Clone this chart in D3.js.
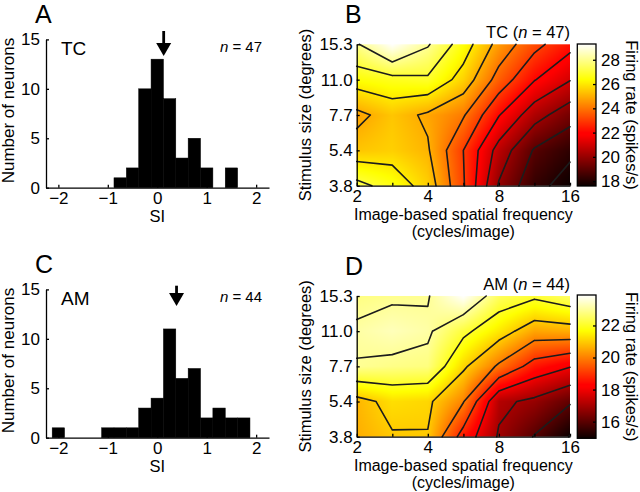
<!DOCTYPE html>
<html><head><meta charset="utf-8">
<script src="https://cdn.jsdelivr.net/npm/d3@7"></script>
<style>
body{margin:0;background:#fff;}
svg text{font-family:"Liberation Sans",Arial,Helvetica,sans-serif;fill:#000;}
</style></head><body>
<svg id="fig" width="640" height="492"></svg>
<script>
// ---------- data ----------
const binCenters = [-2,-1.75,-1.5,-1.25,-1,-0.75,-0.5,-0.25,0,0.25,0.5,0.75,1,1.25,1.5,1.75];
const countsTC = [0,0,0,0,0,1,2,10,13,9,3,5,2,0,2,0];
const countsAM = [1,0,0,0,1,1,1,3,4,11,6,7,2,3,2,2];
const binWidth = 0.25;
const siTicks = [-2,-1,0,1,2];
const countTicks = [0,5,10,15];
const meanSITC = 0.13;
const meanSIAM = 0.39;

const freqs = [2,2.83,4,5.66,8,11.31,16];
const freqTickLabels = [2,4,8,16];
const sizes = [15.3,11.0,7.7,5.4,3.8];
const sizeLabels = ["15.3","11.0","7.7","5.4","3.8"];

// rows: sizes (15.3 -> 3.8), cols: freqs (2 -> 16), spikes/s
const rateTC = [
  [27.9, 29.3, 28.1, 26.5, 24.65, 23.3, 22.3],
  [26.45,26.7, 26.85,25.6, 23.6, 22.05,21.05],
  [24.75,25.4, 24.84,24.1, 22.05,20.4, 19.4],
  [25.4, 25.57,25.1, 23.0, 20.6, 18.9, 18.2],
  [27.3, 26.6, 25.57,23.1, 19.9, 18.3, 17.6]
];
const rateAM = [
  [22.8, 22.9, 22.95,23.9, 22.5, 22.15,22.6],
  [23.1, 23.3, 23.12,22.2, 21.4, 20.5, 20.6],
  [22.97,22.85,22.78,21.15,19.86,18.6, 18.05],
  [20.7, 21.25,21.15,20.05,17.2, 16.8, 16.1],
  [20.6, 20.94,20.96,18.6, 16.9, 15.95,14.96]
];
const levelsTC = [18,19,20,21,22,23,24,25,26,27,28];
const levelsAM = [15,16,17,18,19,20,21,22,23];
const cbTicksTC = [18,20,22,24,26,28];
const cbTicksAM = [16,18,20,22];
const cbDomainTC = [17.6, 29.3];
const cbDomainAM = [14.96, 23.9];

// ---------- helpers ----------
const svg = d3.select("#fig");
const FS = 16.5;   // axis titles
const TS = 17;     // tick labels
const FONT = '"Liberation Sans",Arial,sans-serif';

function hot(t){
  t = Math.max(0, Math.min(1, t));
  const r = Math.min(1, (t + 1/64) / 0.375);
  const g = Math.max(0, Math.min(1, (t - 0.375) / 0.375));
  const b = Math.max(0, Math.min(1, (t - 0.75) / 0.25));
  return [Math.round(r*255), Math.round(g*255), Math.round(b*255)];
}

function styleAxis(a){
  a.selectAll("path,line").attr("stroke","#000").attr("stroke-width",1.3);
  a.selectAll("text").attr("font-size", TS).attr("font-family",FONT).attr("fill","#000");
}

function histogram(cfg){
  const g = svg.append("g");
  const x = d3.scaleLinear().domain([-2.25, 2.26]).range([46, 269]);
  const y = d3.scaleLinear().domain([0, 15]).range([cfg.y0, cfg.y0 - 148.3]);
  g.selectAll("rect.bar").data(binCenters.map((c,i)=>({c, n:cfg.counts[i]})).filter(d=>d.n>0))
    .enter().append("rect")
    .attr("x", d=>x(d.c - binWidth/2))
    .attr("width", d=>x(d.c + binWidth/2) - x(d.c - binWidth/2))
    .attr("y", d=>y(d.n))
    .attr("height", d=>y(0) - y(d.n))
    .attr("fill", "#000").attr("stroke", "#000").attr("stroke-width", 0.5);
  const ax = g.append("g").attr("transform", `translate(0,${y(0)})`)
    .call(d3.axisBottom(x).tickValues(siTicks).tickFormat(d3.format("d")).tickSize(-3).tickSizeOuter(0).tickPadding(4));
  const ay = g.append("g").attr("transform", `translate(${x.range()[0]},0)`)
    .call(d3.axisLeft(y).tickValues(countTicks).tickFormat(d3.format("d")).tickSize(-3).tickSizeOuter(0).tickPadding(6));
  styleAxis(ax); styleAxis(ay);
  // arrow at mean SI
  const ax0 = x(cfg.mean);
  g.append("line").attr("x1",ax0).attr("x2",ax0).attr("y1",cfg.arrowTop).attr("y2",cfg.arrowTip-8)
    .attr("stroke","#000").attr("stroke-width",2.8);
  g.append("path").attr("d",`M${ax0-7.5},${cfg.arrowTip-13} L${ax0+7.5},${cfg.arrowTip-13} L${ax0},${cfg.arrowTip} Z`)
    .attr("fill","#000");
  // texts
  g.append("text").attr("x",35).attr("y",cfg.y0-164.5).attr("font-size",25).text(cfg.letter);
  g.append("text").attr("x",61).attr("y",cfg.y0-132.5).attr("font-size",19).text(cfg.name);
  const nt = g.append("text").attr("x",262).attr("y",cfg.y0-136).attr("text-anchor","end").attr("font-size",15);
  nt.append("tspan").attr("font-style","italic").text("n");
  nt.append("tspan").text(" = " + cfg.n);
  g.append("text").attr("transform",`translate(14,${(y(0)+y(15))/2 - 3}) rotate(-90)`)
    .attr("text-anchor","middle").attr("font-size",17).text("Number of neurons");
  g.append("text").attr("x",x(0)).attr("y",y(0)+34).attr("text-anchor","middle").attr("font-size",FS).text("SI");
}

function segmentsFor(Z, L){
  const segs = [];
  const nr = Z.length, nc = Z[0].length;
  for(let j=0;j<nr-1;j++) for(let i=0;i<nc-1;i++){
    const c = [
      {i:i, j:j, v:Z[j][i]},
      {i:i+1, j:j, v:Z[j][i+1]},
      {i:i+1, j:j+1, v:Z[j+1][i+1]},
      {i:i, j:j+1, v:Z[j+1][i]}
    ];
    const hi = c.map(p=>p.v>=L);
    const pts = [];
    for(let k=0;k<4;k++){
      const a=c[k], b=c[(k+1)%4];
      if(hi[k]!==hi[(k+1)%4]){
        const t=(L-a.v)/(b.v-a.v);
        pts[k] = [a.i + t*(b.i-a.i), a.j + t*(b.j-a.j)];
      }
    }
    const ks = [0,1,2,3].filter(k=>pts[k]);
    if(ks.length===2) segs.push([pts[ks[0]], pts[ks[1]]]);
    else if(ks.length===4){
      const center = (c[0].v+c[1].v+c[2].v+c[3].v)/4 >= L;
      for(let k=0;k<4;k++) if(hi[k]!==center) segs.push([pts[(k+3)%4], pts[k]]);
    }
  }
  return segs;
}

function heatmap(cfg){
  const g = svg.append("g");
  const x0 = 356.7, x1 = 570, yT = cfg.yTop, yB = cfg.yBot;
  const x = d3.scaleLog().base(2).domain([2,16]).range([x0, x1]);
  const y = d3.scalePoint().domain(sizes).range([yT, yB]);
  const rowIdx = d3.scaleLinear().domain([0, sizes.length-1]).range([yT, yB]);
  const colIdx = d3.scaleLinear().domain([0, freqs.length-1]).range([x(freqs[0]), x(freqs[freqs.length-1])]);
  const cnorm = d3.scaleLinear().domain(cfg.cdom).range([0,1]);
  const Z = cfg.data;
  // interpolated surface
  const W = Math.round(x1-x0), H = Math.round(yB-yT);
  const cv = document.createElement("canvas"); cv.width=W; cv.height=H;
  const ctx = cv.getContext("2d"); const img = ctx.createImageData(W,H);
  for(let py=0;py<H;py++){
    const r = Math.max(0, Math.min(sizes.length-1, rowIdx.invert(yT+py+0.5)));
    const j0 = Math.min(sizes.length-2, Math.floor(r)), fy = r-j0;
    for(let px=0;px<W;px++){
      const cc = Math.max(0, Math.min(freqs.length-1, colIdx.invert(x0+px+0.5)));
      const i0 = Math.min(freqs.length-2, Math.floor(cc)), fx = cc-i0;
      const v = (1-fy)*((1-fx)*Z[j0][i0] + fx*Z[j0][i0+1]) + fy*((1-fx)*Z[j0+1][i0] + fx*Z[j0+1][i0+1]);
      const col = hot(cnorm(v));
      const o = (py*W+px)*4;
      img.data[o]=col[0]; img.data[o+1]=col[1]; img.data[o+2]=col[2]; img.data[o+3]=255;
    }
  }
  ctx.putImageData(img,0,0);
  g.append("image").attr("x",x0).attr("y",yT).attr("width",x1-x0).attr("height",yB-yT)
    .attr("preserveAspectRatio","none").attr("href",cv.toDataURL());
  // contours
  const toPx = p => [colIdx(p[0]), rowIdx(p[1])];
  const line = d3.line();
  cfg.levels.forEach(L=>{
    const segs = segmentsFor(Z, L);
    g.append("path").attr("d", segs.map(s=>line(s.map(toPx))).join(""))
      .attr("fill","none").attr("stroke","#1c1c1c").attr("stroke-width",1.6)
      .attr("stroke-linecap","round").attr("stroke-linejoin","round");
  });
  // axes
  const ax = g.append("g").attr("transform",`translate(0,${yB})`)
    .call(d3.axisBottom(x).tickValues(freqs).tickFormat(d=>freqTickLabels.includes(d)?d:"")
      .tickSize(-3).tickSizeOuter(0).tickPadding(4));
  const ay = g.append("g").attr("transform",`translate(${x0},0)`)
    .call(d3.axisLeft(y).tickFormat((d,i)=>sizeLabels[i]).tickSize(-3).tickSizeOuter(0).tickPadding(4));
  styleAxis(ax); styleAxis(ay);
  // colorbar
  const cbx0 = 577.3, cbx1 = 596;
  const cy = d3.scaleLinear().domain(cfg.cdom).range([cfg.cbBot, cfg.cbTop]);
  const CH = Math.round(cfg.cbBot-cfg.cbTop);
  const cv2 = document.createElement("canvas"); cv2.width=1; cv2.height=CH;
  const ctx2 = cv2.getContext("2d"); const im2 = ctx2.createImageData(1,CH);
  for(let py=0;py<CH;py++){
    const col = hot(cnorm(cy.invert(cfg.cbTop+py+0.5)));
    im2.data[py*4]=col[0]; im2.data[py*4+1]=col[1]; im2.data[py*4+2]=col[2]; im2.data[py*4+3]=255;
  }
  ctx2.putImageData(im2,0,0);
  g.append("image").attr("x",cbx0).attr("y",cfg.cbTop).attr("width",cbx1-cbx0).attr("height",cfg.cbBot-cfg.cbTop)
    .attr("preserveAspectRatio","none").attr("href",cv2.toDataURL());
  g.append("rect").attr("x",cbx0).attr("y",cfg.cbTop).attr("width",cbx1-cbx0).attr("height",cfg.cbBot-cfg.cbTop)
    .attr("fill","none").attr("stroke","#000").attr("stroke-width",1.3);
  const ac = g.append("g").attr("transform",`translate(${cbx1},0)`)
    .call(d3.axisRight(cy).tickValues(cfg.cbTicks).tickSize(-3).tickSizeOuter(0).tickPadding(5));
  ac.select(".domain").remove();
  styleAxis(ac);
  // texts
  g.append("text").attr("x",345).attr("y",cfg.yTop-21).attr("font-size",25).text(cfg.letter);
  const tt = g.append("text").attr("x",x1).attr("y",cfg.yTop-6.5).attr("text-anchor","end").attr("font-size",FS);
  tt.append("tspan").text(cfg.name+" (");
  tt.append("tspan").attr("font-style","italic").text("n");
  tt.append("tspan").text(" = "+cfg.n+")");
  g.append("text").attr("transform",`translate(311,${(yT+yB)/2}) rotate(-90)`)
    .attr("text-anchor","middle").attr("font-size",FS).text("Stimulus size (degrees)");
  g.append("text").attr("x",(x0+x1)/2).attr("y",yB+34.5).attr("text-anchor","middle").attr("font-size",16)
    .text("Image-based spatial frequency");
  g.append("text").attr("x",(x0+x1)/2).attr("y",yB+51.5).attr("text-anchor","middle").attr("font-size",16)
    .text("(cycles/image)");
  g.append("text").attr("transform",`translate(626,${(cfg.cbTop+cfg.cbBot)/2}) rotate(90)`)
    .attr("text-anchor","middle").attr("font-size",FS).text("Firing rate (spikes/s)");
}

histogram({counts:countsTC, y0:187.7, mean:meanSITC, arrowTop:31, arrowTip:56, letter:"A", name:"TC", n:47});
histogram({counts:countsAM, y0:437.7, mean:meanSIAM, arrowTop:285.7, arrowTip:306, letter:"C", name:"AM", n:44});
heatmap({data:rateTC, levels:levelsTC, cdom:cbDomainTC, cbTicks:cbTicksTC, yTop:44.3, yBot:185.7, cbTop:44, cbBot:186, letter:"B", name:"TC", n:47});
heatmap({data:rateAM, levels:levelsAM, cdom:cbDomainAM, cbTicks:cbTicksAM, yTop:296, yBot:436.7, cbTop:295, cbBot:438.3, letter:"D", name:"AM", n:44});
</script>
</body></html>
